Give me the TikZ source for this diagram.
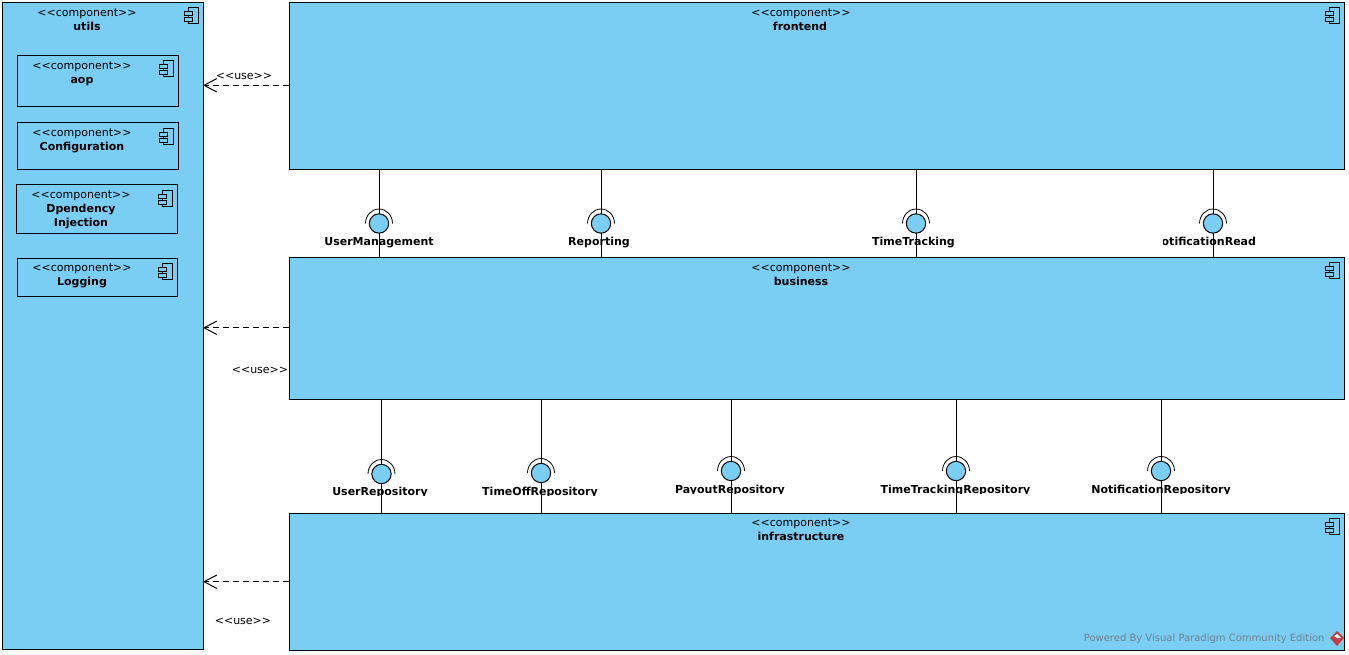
\documentclass[tikz,border=0pt]{standalone}
\usepackage{fontspec}
\setmainfont{DejaVu Sans}
\usetikzlibrary{arrows.meta}
\definecolor{compblue}{RGB}{122,206,244}
\definecolor{markgray}{RGB}{112,128,144}
\definecolor{markred}{RGB}{196,60,70}
\newcommand{\px}{0.75pt}
\begin{document}
\begin{tikzpicture}[x=0.75pt,y=-0.75pt,line width=0.75pt,
    compbox/.style={draw=black,fill=compblue,rectangle,inner sep=0pt,outer sep=0pt,anchor=north west},
    stereo/.style={inner sep=0pt,font=\fontsize{8.25pt}{10.5pt}\selectfont,text height=6.2pt,text depth=1.6pt},
    compname/.style={inner sep=0pt,font=\fontsize{8.25pt}{10.5pt}\selectfont\bfseries,text height=6.2pt,text depth=1.6pt},
    ifcircle/.style={draw=black,fill=compblue,circle,inner sep=0pt,outer sep=0pt,minimum size=14.5pt},
    uselabel/.style={inner sep=0pt,font=\fontsize{8.25pt}{10.5pt}\selectfont,text height=6.2pt,text depth=1.6pt},
    usearrow/.style={draw=black,dash pattern=on 4.5pt off 3pt,-{Straight Barb[length=9.5pt,width=10pt,line width=0.75pt]}},
    pics/compicon/.style={code={
        \draw[fill=compblue,line width=0.7pt] (-10,0) rectangle (0,16);
        \draw[fill=compblue,line width=0.7pt] (-14,4) rectangle (-6,8);
        \draw[fill=compblue,line width=0.7pt] (-14,10) rectangle (-6,14);
    }}]
    \useasboundingbox (0,0) rectangle (1349,655);

    % components
    \foreach \boxname/\xa/\ya/\xb/\yb/\xs/\xn/\ys/\txt in {
        utils/2/2.6/203/649.3/87/87/13.4/utils,
        aop/17/55.6/178/106.6/82/82/66.4/aop,
        config/17/123/178/169.6/82/82/133.4/Configuration,
        inject/16/185/177/233.6/81/81/195.4/Dpendency,
        logging/17/258.6/177/296.6/82/82/268.6/Logging,
        frontend/289/2.6/1344/169.6/801/800/13.4/frontend,
        business/289/257.6/1344/399.6/801/801/268.4/business,
        infra/289/513.2/1344/650.2/801/801/523.2/infrastructure}
    {
        \node[compbox,minimum width=(\xb-\xa)*\px,minimum height=(\yb-\ya)*\px] (\boxname) at (\xa,\ya) {};
        \node[stereo] (\boxname-st) at (\xs,\ys) {<{}<component>{}>};
        \node[compname] (\boxname-nm) at (\xn,\ys+14) {\txt};
        \pic at (\xb-5,\ya+5) {compicon};
    }
    \node[compname] (inject-nm2) at (81,223.4) {Injection};

    % use arrows
    \draw[usearrow] ([yshift=0.6pt]frontend.west) -- ([yshift=0.6pt]frontend.west -| utils.east);
    \draw[usearrow] ([yshift=0.6pt]business.west) -- ([yshift=0.6pt]business.west -| utils.east);
    \draw[usearrow] (infra.west) -- (infra.west -| utils.east);
    \node[uselabel] (use1) at (244,76) {<{}<use>{}>};
    \node[uselabel] (use2) at (260,370) {<{}<use>{}>};
    \node[uselabel] (use3) at (243,621) {<{}<use>{}>};

    % provided interfaces, upper row
    \foreach \ifname/\x/\y in {ifuser/379/223.5,ifreport/601/223.5,iftime/916/223.5,ifnotif/1213/223.5}
    {
        \node[ifcircle] (\ifname) at (\x,\y) {};
        \draw (\ifname.north) -- (\ifname.north |- frontend.south);
        \draw (\ifname.south) -- (\ifname.south |- business.north);
        \draw[line width=0.6pt] (\x-13.5,\y) arc (180:360:13.5 and 14.5);
    }

    % provided interfaces, lower row
    \foreach \ifname/\x/\y in {ifuserrepo/381.5/474,ifoffrepo/541/473,ifpayrepo/731/471,iftimerepo/956/471,ifnotifrepo/1161/471}
    {
        \node[ifcircle] (\ifname) at (\x,\y) {};
        \draw (\ifname.north) -- (\ifname.north |- business.south);
        \draw (\ifname.south) -- (\ifname.south |- infra.north);
        \draw[line width=0.6pt] (\x-13.5,\y) arc (180:360:13.5 and 14.5);
    }

    % interface names
    \node[compname] (ifuser-nm) at (379,242.4) {UserManagement};
    \node[compname] (ifreport-nm) at (599,242.4) {Reporting};
    \node[compname] (iftime-nm) at (913.5,242.4) {TimeTracking};
    \begin{scope}
        \clip (1163,230) rectangle (1300,250);
        \node[compname,anchor=east] (ifnotif-nm) at (1256.5,242.4) {NotificationRead};
    \end{scope}
    \begin{scope}
        \clip (300,480) rectangle (640,495.5);
        \node[compname] (ifuserrepo-nm) at (380,492.4) {UserRepository};
        \node[compname] (ifoffrepo-nm) at (540,492.4) {TimeOffRepository};
    \end{scope}
    \begin{scope}
        \clip (640,480) rectangle (1300,493.5);
        \node[compname] (ifpayrepo-nm) at (730,490.4) {PayoutRepository};
        \node[compname] (iftimerepo-nm) at (955.5,490.4) {TimeTrackingRepository};
        \node[compname] (ifnotifrepo-nm) at (1161,490.4) {NotificationRepository};
    \end{scope}

    % watermark
    \node[inner sep=0pt,anchor=east,text=markgray,font=\fontsize{7.5pt}{9pt}\selectfont] (mark) at (1325,638.5) {Powered By Visual Paradigm Community Edition};
    \fill[markred] (1337,631) -- (1344,638) -- (1337,646) -- (1330,638) -- cycle;
    \fill[white] (1337,634) -- (1341,638) -- (1337,638) -- (1334,636) -- cycle;
\end{tikzpicture}
\end{document}
